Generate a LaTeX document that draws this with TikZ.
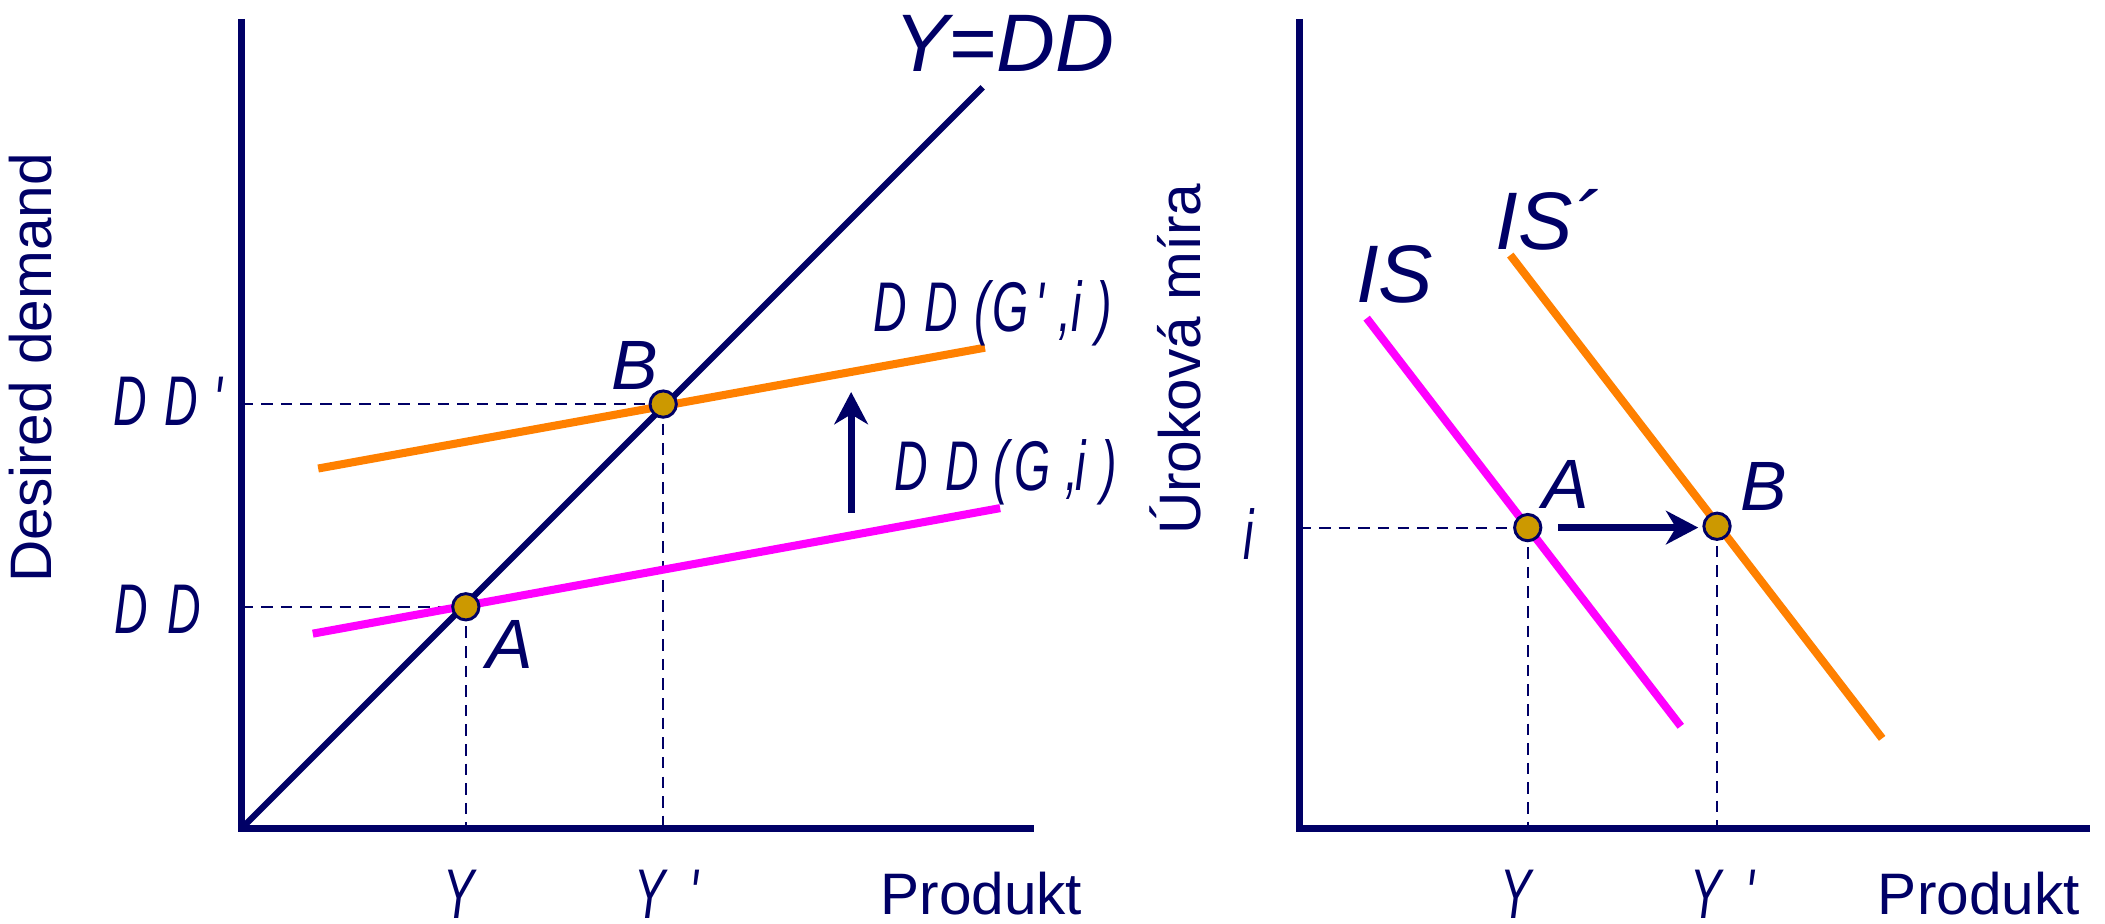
\documentclass[tikz,border=0pt]{standalone}
\usepackage{fontspec}
\setmainfont{Liberation Sans}
\usetikzlibrary{arrows.meta}
\definecolor{navy}{RGB}{0,0,102}
\definecolor{orng}{RGB}{255,128,0}
\definecolor{mgnt}{RGB}{255,0,255}
\definecolor{gold}{RGB}{204,153,0}
\newcommand{\nc}[2]{\makebox[#1][l]{\scalebox{0.66}[1]{#2}}}
\begin{document}
\begin{tikzpicture}[x=0.5bp,y=-0.5bp,
  axis/.style={navy, line width=2.7bp},
  guide/.style={navy, line width=0.8bp, dash pattern=on 4.3bp off 3bp},
  curveO/.style={orng, line width=3bp},
  curveM/.style={mgnt, line width=3bp},
  diag/.style={navy, line width=2.3bp},
  dot/.style={circle, fill=gold, draw=navy, line width=1.1bp, minimum size=9.8bp, inner sep=0},
  shiftarrow/.style={navy, line width=2.6bp, -{Stealth[length=12bp,width=12.5bp,inset=3.7bp]}},
  txt/.style={text=navy, inner sep=0},
  lab/.style={txt, font=\fontsize{21.8bp}{24bp}\selectfont},
  big/.style={txt, font=\fontsize{30.4bp}{34bp}\selectfont\itshape},
  ptlab/.style={txt, font=\fontsize{26bp}{30bp}\selectfont\itshape},
  narrow/.style={txt, font=\fontsize{26.2bp}{30bp}\selectfont\itshape}
]
\useasboundingbox (0,0) rectangle (1568,688);

% ---------- left panel coordinates ----------
\coordinate (O1) at (180,617);
\coordinate (T1) at (180,14);
\coordinate (X1) at (770,617);
\coordinate (E1) at (732,65);
\coordinate (MS) at (233,472);
\coordinate (ME) at (745,378.5);
\coordinate (OS) at (237,349);
\coordinate (OE) at (733.7,259);
\coordinate (a1) at (347,452);
\coordinate (b1) at (494,301);
\coordinate (ya1) at (180,452);
\coordinate (xa1) at (347,617);
\coordinate (yb1) at (180,301);
\coordinate (xb1) at (494,617);
\coordinate (up0) at (634,382);
\coordinate (up1) at (634,292);

% ---------- right panel coordinates ----------
\coordinate (O2) at (968,617);
\coordinate (T2) at (968,14);
\coordinate (X2) at (1557,617);
\coordinate (IS0) at (1018,237);
\coordinate (IS1) at (1252,541);
\coordinate (ISp0) at (1125,190);
\coordinate (ISp1) at (1402,550);
\coordinate (a2) at (1138,393);
\coordinate (b2) at (1279,392);
\coordinate (ya2) at (968,393);
\coordinate (xa2) at (1138,617);
\coordinate (xb2) at (1279,617);
\coordinate (r0) at (1160.5,393);
\coordinate (r1) at (1265,393);

% guides
\draw[guide] (ya1) -- (a1);
\draw[guide] (a1) -- (xa1);
\draw[guide] (yb1) -- (b1);
\draw[guide] (b1) -- (xb1);
\draw[guide] (ya2) -- (a2);
\draw[guide] (a2) -- (xa2);
\draw[guide] (b2) -- (xb2);

% axes
\draw[axis] (T1) -- (O1) -- (X1);
\draw[axis] (T2) -- (O2) -- (X2);

% curves
\draw[curveM] (MS) -- (ME);
\draw[curveO] (OS) -- (OE);
\draw[diag] (O1) -- (E1);
\draw[curveM] (IS0) -- (IS1);
\draw[curveO] (ISp0) -- (ISp1);

% shift arrows
\draw[shiftarrow] (up0) -- (up1);
\draw[shiftarrow] (r0) -- (r1);

% points
\node[dot] (A1) at (a1) {};
\node[dot] (B1) at (b1) {};
\node[dot] (A2) at (a2) {};
\node[dot] (B2) at (b2) {};

% texts left
\node[big, anchor=base] (tYDD) at (748,53.4) {Y=DD};
\node[ptlab, anchor=base] (tA1) at (380,498) {A};
\node[ptlab, anchor=base] (tB1) at (473,290) {B};
\node[lab, anchor=base] (tP1) at (731,681) {Produkt};
\node[lab, rotate=90, anchor=base] (tDes) at (38.5,274) {Desired demand};
\node[narrow, anchor=base west] (tDD) at (85,472) {\nc{19.5bp}{D}\nc{10bp}{D}};
\node[narrow, anchor=base west] (tDDp) at (84,317) {\nc{19bp}{D}\nc{18.5bp}{D}\nc{6bp}{\textquotesingle}};
\node[narrow, anchor=base west] (tDDGp) at (650,247) {\nc{19.3bp}{D}\nc{18.5bp}{D}\nc{6.75bp}{(}\nc{16bp}{G}\nc{8.5bp}{\textquotesingle}\nc{5bp}{,}\nc{9bp}{i}\nc{6bp}{)}};
\node[narrow, anchor=base west] (tDDG) at (666,365) {\nc{19bp}{D}\nc{18bp}{D}\nc{7.5bp}{(}\nc{19bp}{G}\nc{4bp}{,}\nc{9.5bp}{i}\nc{6bp}{)}};
\node[narrow, anchor=base west] (tYl) at (330,684) {\nc{12bp}{Y}};
\node[narrow, anchor=base west] (tYpl) at (472,684) {\nc{20.5bp}{Y}\nc{6bp}{\textquotesingle}};

% texts right
\node[big, anchor=base] (tIS) at (1039,225) {IS};
\node[big, anchor=base] (tISp) at (1153,186) {IS´};
\node[ptlab, anchor=base] (tA2) at (1166,378.5) {A};
\node[ptlab, anchor=base] (tB2) at (1314,380) {B};
\node[lab, anchor=base] (tP2) at (1474,681) {Produkt};
\node[lab, rotate=90, anchor=base] (tUrok) at (894,267.5) {Úroková míra};
\node[narrow, anchor=base west] (ti) at (926,417) {\nc{6bp}{i}};
\node[narrow, anchor=base west] (tYr) at (1117,684) {\nc{12bp}{Y}};
\node[narrow, anchor=base west] (tYpr) at (1259,684) {\nc{20.5bp}{Y}\nc{6bp}{\textquotesingle}};
\end{tikzpicture}
\end{document}
